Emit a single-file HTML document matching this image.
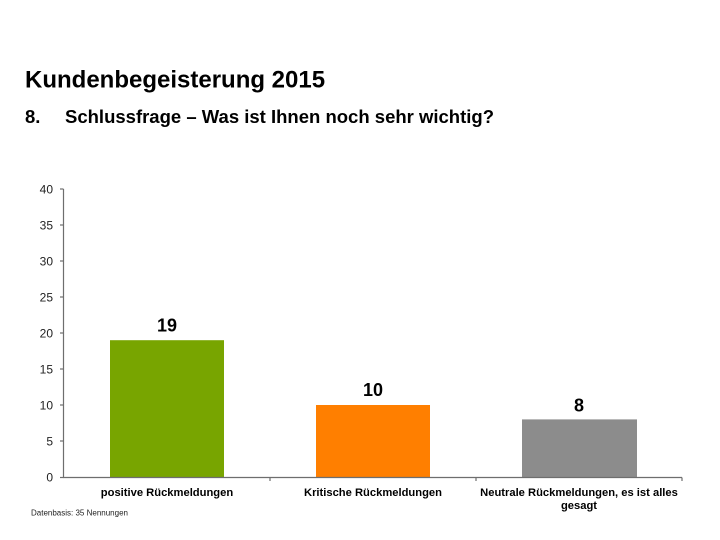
<!DOCTYPE html>
<html><head><meta charset="utf-8"><style>
html,body{margin:0;padding:0;background:#fff;}
body{width:720px;height:540px;overflow:hidden;}
svg{display:block;}
</style></head><body>
<svg width="720" height="540" viewBox="0 0 720 540" xmlns="http://www.w3.org/2000/svg" font-family="Liberation Sans, Arial, sans-serif">
<rect width="720" height="540" fill="#fff"/>
<text x="25" y="87.5" font-size="24" font-weight="bold" fill="#000">Kundenbegeisterung 2015</text>
<text x="25" y="123" font-size="18.5" font-weight="bold" fill="#000">8.</text>
<text x="65" y="123" font-size="18.5" font-weight="bold" fill="#000">Schlussfrage – Was ist Ihnen noch sehr wichtig?</text>

<!-- bars -->
<rect x="110" y="340.2" width="114" height="136.8" fill="#78a500"/>
<rect x="316" y="405" width="114" height="72" fill="#ff7f00"/>
<rect x="522" y="419.4" width="115" height="57.6" fill="#8c8c8c"/>

<!-- axes -->
<g stroke="#6e6e6e" stroke-width="1.2" fill="none">
<line x1="63.5" y1="189" x2="63.5" y2="477.5"/>
<line x1="63" y1="477.5" x2="682" y2="477.5"/>
<line x1="60" y1="189" x2="63.5" y2="189"/>
<line x1="60" y1="225" x2="63.5" y2="225"/>
<line x1="60" y1="261" x2="63.5" y2="261"/>
<line x1="60" y1="297" x2="63.5" y2="297"/>
<line x1="60" y1="333" x2="63.5" y2="333"/>
<line x1="60" y1="369" x2="63.5" y2="369"/>
<line x1="60" y1="405" x2="63.5" y2="405"/>
<line x1="60" y1="441" x2="63.5" y2="441"/>
<line x1="60" y1="477.5" x2="63.5" y2="477.5"/>
<line x1="270" y1="477.5" x2="270" y2="481"/>
<line x1="476" y1="477.5" x2="476" y2="481"/>
<line x1="682" y1="477.5" x2="682" y2="481"/>
</g>
<g font-size="12" fill="#222" text-anchor="end">
<text x="53" y="193.5">40</text>
<text x="53" y="229.5">35</text>
<text x="53" y="265.5">30</text>
<text x="53" y="301.5">25</text>
<text x="53" y="337.5">20</text>
<text x="53" y="373.5">15</text>
<text x="53" y="409.5">10</text>
<text x="53" y="445.5">5</text>
<text x="53" y="481.5">0</text>
</g>

<g font-size="18" font-weight="bold" fill="#000" text-anchor="middle">
<text x="167" y="331.5">19</text>
<text x="373" y="396">10</text>
<text x="579" y="411.5">8</text>
</g>

<g font-size="11.2" font-weight="bold" fill="#000" text-anchor="middle">
<text x="167" y="496">positive Rückmeldungen</text>
<text x="373" y="496">Kritische Rückmeldungen</text>
<text x="579" y="496">Neutrale Rückmeldungen, es ist alles</text>
<text x="579" y="509">gesagt</text>
</g>
<text x="31" y="515.5" font-size="8" fill="#222">Datenbasis: 35 Nennungen</text>
</svg>
</body></html>
